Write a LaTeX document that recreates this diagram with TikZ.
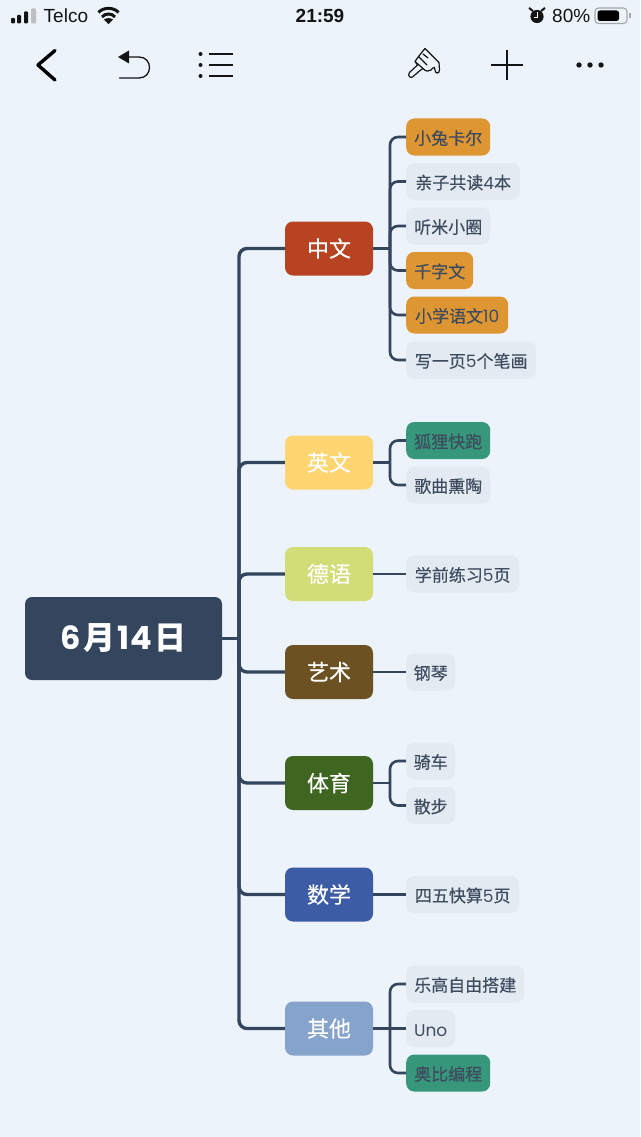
\documentclass[tikz,border=0pt]{standalone}
\usepackage{fontspec}
\setmainfont{Poppins}
\newfontfamily\cjk{Noto Sans CJK SC}[FakeBold=0.35,AutoFakeBold=0.35]
\newfontfamily\cjkb{Noto Sans CJK SC Bold}
\newfontfamily\latinf{Poppins}
\newfontfamily\statusf{Liberation Sans}
\definecolor{bgc}{HTML}{ECF3FA}
\definecolor{navy}{HTML}{34455E}
\definecolor{leafgray}{HTML}{E3EAF2}
\definecolor{leaforange}{HTML}{DD9632}
\definecolor{leafteal}{HTML}{36977A}
\definecolor{leaftext}{HTML}{3E4C60}
\definecolor{tred}{HTML}{B84322}
\definecolor{tyellow}{HTML}{FFD572}
\definecolor{tlime}{HTML}{D2DD78}
\definecolor{tbrown}{HTML}{6C5222}
\definecolor{tgreen}{HTML}{3F6621}
\definecolor{tblue}{HTML}{3D5CA6}
\definecolor{tperi}{HTML}{86A3CC}
\definecolor{barblack}{HTML}{141414}
\newcommand{\lat}[1]{{\latinf\fontsize{17}{17}\selectfont #1}}
\tikzset{
  rootbox/.style={rectangle,rounded corners=7pt,fill=navy,text=white,minimum width=197pt,minimum height=83pt,inner sep=0pt},
  topicbox/.style={rectangle,rounded corners=8pt,text=white,minimum width=88pt,minimum height=54pt,inner sep=0pt,font=\cjk\fontsize{22}{22}\selectfont},
  leafbox/.style={rectangle,rounded corners=8pt,anchor=west,text=leaftext,minimum height=37pt,inner sep=0pt,text height=17pt,text depth=2pt,font=\cjk\fontsize{17}{17}\selectfont},
  grayleaf/.style={leafbox,fill=leafgray},
  orangeleaf/.style={leafbox,fill=leaforange},
  tealleaf/.style={leafbox,fill=leafteal},
  trunkline/.style={draw=navy,line width=3.4pt,rounded corners=8pt},
  twigline/.style={draw=navy,line width=2.6pt,rounded corners=8pt},
  icon/.style={draw=barblack,line width=1.2pt,line cap=round,line join=round},
  statustext/.style={inner sep=0pt,anchor=base west,text=barblack}
}
\begin{document}
\begin{tikzpicture}[x=1pt,y=-1pt]
\useasboundingbox (0,0) rectangle (640,1137);
\fill[bgc] (0,0) rectangle (640,1137);

% status bar
\fill[barblack,rounded corners=1pt] (11,18) rectangle (15,23.5);
\fill[barblack,rounded corners=1pt] (17,15) rectangle (21,23.5);
\fill[barblack,rounded corners=1pt] (24,11.5) rectangle (28,23.5);
\fill[gray!50,rounded corners=1pt] (31,8.5) rectangle (36,23.5);
\node[statustext,font=\statusf\fontsize{19}{19}\selectfont] at (43.5,23) {Telco};
\draw[barblack,line width=3pt] (98.5,12.5) .. controls (103,7) and (114,7) .. (118.5,12.5);
\draw[barblack,line width=3pt] (102,17) .. controls (105,13) and (112,13) .. (115,17);
\fill[barblack] (108.5,24) -- (104,19.6) .. controls (107,17.6) and (110,17.6) .. (113,19.6) -- cycle;
\node[anchor=base,inner sep=0pt,text=barblack,font=\statusf\bfseries\fontsize{19}{19}\selectfont] at (320,23) {21:59};
\fill[barblack] (537,16.5) circle (6.6pt);
\fill[barblack,rotate around={-40:(531,9.5)}] (528.5,8.5) rectangle (533.5,10.5);
\fill[barblack,rotate around={40:(543,9.5)}] (540.5,8.5) rectangle (545.5,10.5);
\draw[white,line width=0.9pt] (537.5,12) -- (537.5,17) -- (534,17);
\node[statustext,font=\statusf\fontsize{19}{19}\selectfont] at (552,23) {80\%};
\draw[gray!70,line width=1.1pt,rounded corners=3.5pt] (595,8) rectangle (627,23.5);
\fill[black,rounded corners=2.5pt] (597.5,10.5) rectangle (619,21);
\fill[gray!70] (629,13.5) rectangle (631,18.5);

% toolbar
\draw[black,line width=3.4pt,line cap=round,line join=round] (55,50.5) -- (38,65) -- (55,80);
\fill[barblack] (118,57) -- (129,50.5) -- (129,63.5) -- cycle;
\draw[barblack,line width=1.3pt,line cap=round] (128,57) -- (139,57) .. controls (153,57) and (153,78) .. (139,78) -- (119.5,78);
\foreach \yy in {54,65,76}{
  \fill[barblack] (200.5,\yy) circle (2pt);
  \draw[barblack,line width=1.3pt] (209,\yy) -- (233,\yy);
}
\draw[icon] (425,48.5) -- (439,62.5) -- (439.5,70) .. controls (439.5,74) and (435,74) .. (435,70) -- (434.5,67.5)
  .. controls (433,67) and (432,69) .. (431,70) .. controls (429,71.5) and (426,72) .. (423,68.5) -- (415,61.5)
  -- (418.5,56.5) -- cycle;
\draw[icon] (418.5,56.5) -- (427,65) (423,54) -- (428,58);
\draw[icon] (415,61.5) -- (417.5,65) -- (409.5,72.5) .. controls (407.5,75) and (409.5,78.5) .. (412.5,77) -- (420,70.5) -- (423,68.5);
\draw[barblack,line width=1.3pt] (507,50) -- (507,80) (491,65) -- (522.5,65);
\foreach \xx in {579,590,601}{\fill[barblack] (\xx,65) circle (2.7pt);}

% root
\node[rootbox] (root) at (123.5,638.5) {\fontsize{32}{32}\selectfont\latinf\bfseries 6\kern2.5pt{\cjkb 月}\kern2pt 1\kern1pt 4\kern2.5pt{\cjkb 日}};
\coordinate (trunk) at (239,638.5);

% topics
\node[topicbox,fill=tred] (t1) at (329,248.5) {中文};
\node[topicbox,fill=tyellow] (t2) at (329,462.5) {英文};
\node[topicbox,fill=tlime] (t3) at (329,574) {德语};
\node[topicbox,fill=tbrown] (t4) at (329,672) {艺术};
\node[topicbox,fill=tgreen] (t5) at (329,783) {体育};
\node[topicbox,fill=tblue] (t6) at (329,894.5) {数学};
\node[topicbox,fill=tperi] (t7) at (329,1028.5) {其他};

% leaves
\node[orangeleaf,minimum width=84pt] (a1) at (406,137) {小兔卡尔};
\node[grayleaf,minimum width=114pt] (a2) at (406,181.5) {亲子共读\lat{4}本};
\node[grayleaf,minimum width=84pt] (a3) at (406,226) {听米小圈};
\node[orangeleaf,minimum width=67pt] (a4) at (406,270.5) {千字文};
\node[orangeleaf,minimum width=102pt] (a5) at (406,315) {小学语文\lat{10}};
\node[grayleaf,minimum width=130pt] (a6) at (406,360) {写一页\lat{5}个笔画};
\node[tealleaf,minimum width=84pt] (b1) at (406,440.5) {狐狸快跑};
\node[grayleaf,minimum width=84pt] (b2) at (406,485) {歌曲熏陶};
\node[grayleaf,minimum width=113pt] (c1) at (406,574) {学前练习\lat{5}页};
\node[grayleaf,minimum width=49pt] (d1) at (406,672) {钢琴};
\node[grayleaf,minimum width=49pt] (e1) at (406,761) {骑车};
\node[grayleaf,minimum width=49pt] (e2) at (406,805.5) {散步};
\node[grayleaf,minimum width=113pt] (f1) at (406,894.5) {四五快算\lat{5}页};
\node[grayleaf,minimum width=118pt] (g1) at (406,984) {乐高自由搭建};
\node[grayleaf,minimum width=49pt] (g2) at (406,1028.5) {\lat{Uno}};
\node[tealleaf,minimum width=84pt] (g3) at (406,1073) {奥比编程};

% trunk connectors
\draw[trunkline] (root.east) -- (trunk);
\foreach \tt in {t1,t2,t3,t4,t5,t6,t7}{
  \draw[trunkline] (trunk) |- (\tt.west);
}
% twig connectors
\coordinate (ja) at (390,248.5);
\coordinate (jb) at (390,462.5);
\coordinate (je) at (390,783);
\coordinate (jg) at (390,1028.5);
\draw[twigline] (t1.east) -- (ja);
\foreach \nn in {a1,a2,a3,a4,a5,a6}{\draw[twigline] (ja) |- (\nn.west);}
\draw[twigline] (t2.east) -- (jb);
\foreach \nn in {b1,b2}{\draw[twigline] (jb) |- (\nn.west);}
\draw[twigline] (t3.east) -- (c1.west);
\draw[twigline] (t4.east) -- (d1.west);
\draw[twigline] (t5.east) -- (je);
\foreach \nn in {e1,e2}{\draw[twigline] (je) |- (\nn.west);}
\draw[twigline] (t6.east) -- (f1.west);
\draw[twigline] (t7.east) -- (g2.west);
\draw[twigline] (jg) |- (g1.west);
\draw[twigline] (jg) |- (g3.west);
\end{tikzpicture}
\end{document}
